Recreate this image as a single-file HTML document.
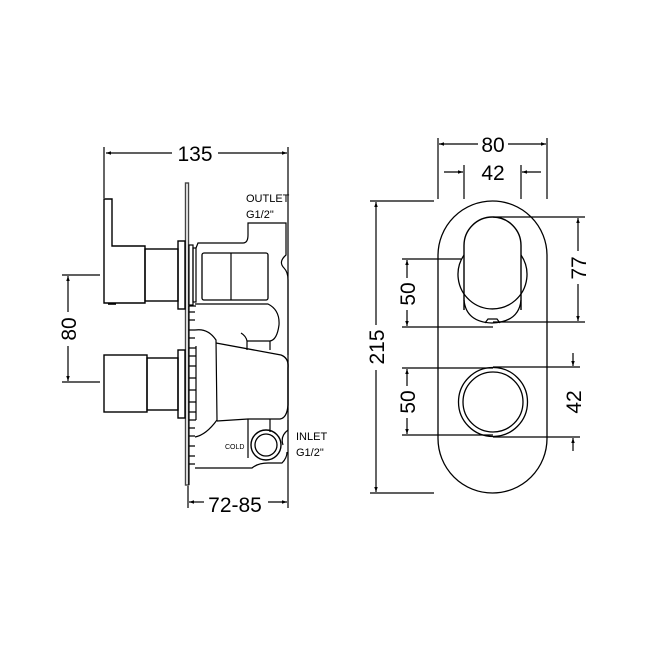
<!DOCTYPE html>
<html><head><meta charset="utf-8"><style>html,body{margin:0;padding:0;background:#fff}svg{display:block}</style></head>
<body>
<svg width="650" height="650" viewBox="0 0 650 650" xmlns="http://www.w3.org/2000/svg" font-family="Liberation Sans, sans-serif">
<defs>
<marker id="a" viewBox="0 0 10 10" refX="10" refY="5" markerWidth="9" markerHeight="5" orient="auto-start-reverse" markerUnits="userSpaceOnUse"><path d="M0,1.5 L10,5 L0,8.5 z" fill="#000"/></marker>
</defs>
<g fill="none" stroke="#000" stroke-width="1.2">
<!-- LEFT DIM -->
<line x1="104" y1="147" x2="104" y2="198"/>
<line x1="288" y1="147" x2="288" y2="508"/>
<line x1="106" y1="153" x2="172" y2="153" marker-start="url(#a)"/>
<line x1="218" y1="153" x2="287" y2="153" marker-end="url(#a)"/>
<line x1="62" y1="275" x2="100" y2="275"/>
<line x1="62" y1="382" x2="100" y2="382"/>
<line x1="68" y1="276" x2="68" y2="312" marker-start="url(#a)"/>
<line x1="68" y1="346" x2="68" y2="381" marker-end="url(#a)"/>
<line x1="188" y1="486" x2="188" y2="508"/>
<line x1="189" y1="502" x2="204" y2="502" marker-start="url(#a)"/>
<line x1="268" y1="502" x2="287" y2="502" marker-end="url(#a)"/>
<!-- plate -->
<rect x="185.5" y="183" width="3" height="302" stroke="#444" stroke-width="1.4"/>
<!-- upper handle -->
<path d="M104,303 L104,199 L112,199 L112,246 L145,246 L145,303 Z" stroke-width="1.4"/>
<path d="M108,304 L116,304" stroke-width="1.6"/>
<rect x="145" y="249" width="33" height="52" stroke-width="1.4"/>
<rect x="178" y="241" width="7" height="68" stroke-width="1.4"/>
<rect x="189" y="245" width="4" height="60"/>
<rect x="193" y="248" width="3" height="54"/>
<!-- lower knob -->
<rect x="104" y="355" width="43" height="57" stroke-width="1.4"/>
<rect x="147" y="358" width="31" height="52" stroke-width="1.4"/>
<rect x="178" y="350" width="7" height="68" stroke-width="1.4"/>
<!-- ticks strip -->
<path d="M189,306 L189,485 M189,306 L196,306 M189,312 L195,312 M189,320 L195,320 M189,330 L195,330 M189,338 L195,338 M189,348 L196,348 M196,346 L196,420 M189,356 L196,356 M189,366 L196,366 M189,378 L196,378 M189,390 L196,390 M189,402 L196,402 M189,412 L196,412 M189,420 L196,420 M189,428 L195,428 M189,436 L195,436 M189,446 L195,446 M189,456 L195,456 M189,464 L195,464"/>
<!-- body -->
<path d="M196,248 L198,243 L243,243 Q248,243 248,235 L248,223 L286,223 L286,255 Q278,262 284,268 Q288,272 288,280 L288,355 M288,360 L288,410 M288,420 L288,430 Q280,436 283,445"/>
<rect x="202" y="253" width="66" height="47" rx="2" stroke-width="1.3"/>
<line x1="231" y1="253" x2="231" y2="300"/>
<path d="M195,304 L268,304 Q280,310 279,325 Q277,340 270,341 L247,341"/>
<path d="M241,333 Q246,336 247,341 L247,350 M270,341 L270,350"/>
<path d="M195,330 Q208,328 216,340 L217,420 Q206,435 195,437"/>
<path d="M216,343 L281,355 Q289,358 288,368 L288,405 Q287,418 280,419 L248,419 L217,421" stroke-width="1.3"/>
<path d="M248,419 L248,458 M270,419 L270,432"/>
<path d="M195,468 L252,468 Q258,463 268,463 L282,463 Q287,458 287,452"/>
<circle cx="266" cy="445" r="15" stroke-width="1.4"/>
<circle cx="266" cy="445" r="11" stroke-width="1.3"/>
<!-- RIGHT -->
<rect x="438" y="201" width="109" height="292" rx="54.5" stroke-width="1.3"/>
<path d="M464,310 L464,245.5 A28.5,28.5 0 0 1 521,245.5 L521,310" stroke-width="1.4"/>
<path d="M464,255 A34.5,34.5 0 1 0 521,255" stroke-width="1.3"/>
<path d="M464,300 Q466,322 492,323 Q519,322 521,300" stroke-width="1.3"/>
<path d="M485,323 L488,319 L497,319 L500,323"/>
<circle cx="493" cy="402" r="34.5" stroke-width="1.3"/>
<circle cx="493" cy="402" r="30" stroke-width="1.3"/>
<!-- dims right -->
<line x1="438" y1="138" x2="438" y2="199"/>
<line x1="547" y1="138" x2="547" y2="199"/>
<line x1="439" y1="144" x2="478" y2="144" marker-start="url(#a)"/>
<line x1="508" y1="144" x2="546" y2="144" marker-end="url(#a)"/>
<line x1="464" y1="165" x2="464" y2="199"/>
<line x1="521" y1="165" x2="521" y2="199"/>
<line x1="444" y1="172" x2="463" y2="172" marker-end="url(#a)"/>
<line x1="541" y1="172" x2="522" y2="172" marker-end="url(#a)"/>
<line x1="370" y1="201" x2="434" y2="201"/>
<line x1="370" y1="493" x2="434" y2="493"/>
<line x1="376" y1="202" x2="376" y2="325" marker-start="url(#a)"/>
<line x1="376" y1="370" x2="376" y2="492" marker-end="url(#a)"/>
<line x1="493" y1="217" x2="585" y2="217"/>
<line x1="493" y1="322" x2="585" y2="322"/>
<line x1="578" y1="218" x2="578" y2="251" marker-start="url(#a)"/>
<line x1="578" y1="284" x2="578" y2="321" marker-end="url(#a)"/>
<line x1="402" y1="259" x2="461" y2="259"/>
<line x1="402" y1="327" x2="493" y2="327"/>
<line x1="407" y1="260" x2="407" y2="278" marker-start="url(#a)"/>
<line x1="407" y1="310" x2="407" y2="326" marker-end="url(#a)"/>
<line x1="402" y1="368" x2="493" y2="368"/>
<line x1="402" y1="435" x2="493" y2="435"/>
<line x1="407" y1="369" x2="407" y2="386" marker-start="url(#a)"/>
<line x1="407" y1="418" x2="407" y2="434" marker-end="url(#a)"/>
<line x1="493" y1="367" x2="580" y2="367"/>
<line x1="493" y1="437" x2="580" y2="437"/>
<line x1="573" y1="353" x2="573" y2="366" marker-end="url(#a)"/>
<line x1="573" y1="451" x2="573" y2="438" marker-end="url(#a)"/>
</g>
<g fill="#000" font-size="21">
<text x="195" y="161" text-anchor="middle">135</text>
<text x="493" y="152" text-anchor="middle">80</text>
<text x="493" y="180" text-anchor="middle">42</text>
<text x="235" y="512" text-anchor="middle">72-85</text>
<text transform="translate(76,329) rotate(-90)" text-anchor="middle">80</text>
<text transform="translate(384,347) rotate(-90)" text-anchor="middle">215</text>
<text transform="translate(586,268) rotate(-90)" text-anchor="middle">77</text>
<text transform="translate(415,294) rotate(-90)" text-anchor="middle">50</text>
<text transform="translate(415,402) rotate(-90)" text-anchor="middle">50</text>
<text transform="translate(581,402) rotate(-90)" text-anchor="middle">42</text>
</g>
<g fill="#000" font-size="11">
<text x="246" y="202">OUTLET</text>
<text x="246" y="218">G1/2"</text>
<text x="296" y="440">INLET</text>
<text x="296" y="456">G1/2"</text>
<text x="225" y="449" font-size="7">COLD</text>
</g>
</svg>
</body></html>
